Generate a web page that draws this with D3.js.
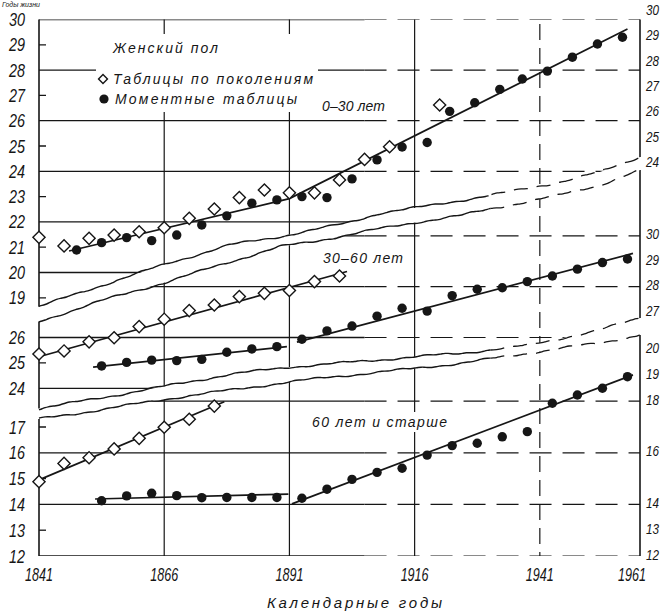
<!DOCTYPE html>
<html><head><meta charset="utf-8">
<script src="https://cdn.jsdelivr.net/npm/d3@7"></script>
<style>
body{margin:0;background:#fff}
svg{display:block}
text{font-family:"Liberation Sans",Arial,sans-serif;font-style:italic;fill:#161616}
</style>
</head><body>
<svg id="c" width="666" height="613"></svg>
<script>
// ---------- DATA ----------
const xTicks = [1841, 1866, 1891, 1916, 1941, 1961];
const xTickLabels = ["1841", "1866", "1891", "1916", "1941", "1961"];
const xTitle = "Календарные годы";

// Top panel: 0–30 лет
const topLeftLabels = [30, 29, 28, 27, 26, 25, 24, 23, 22, 21, 20, 19];
const topGrid = [30, 28, 26, 24, 22, 20];
const topMinor = [29, 27, 25, 23, 21, 19];
const topRightLabels = [30, 29, 28, 27, 26, 25, 24];
const topDiamondYears = [1841, 1846, 1851, 1856, 1861, 1866, 1871, 1876, 1881, 1886, 1891, 1896, 1901, 1906, 1911, 1921];
const topDiamondVals = [21.39, 21.05, 21.35, 21.48, 21.61, 21.77, 22.14, 22.51, 22.96, 23.26, 23.15, 23.15, 23.66, 24.47, 24.97, 26.62];
const topDotYears = [1848.5, 1853.5, 1858.5, 1863.5, 1868.5, 1873.5, 1878.5, 1883.5, 1888.5, 1893.5, 1898.5, 1903.5, 1908.5, 1913.5, 1918.5, 1923, 1928, 1933, 1937.5, 1942.5, 1947.5, 1952.5, 1957.5];
const topDotVals = [20.89, 21.18, 21.38, 21.26, 21.48, 21.88, 22.24, 22.74, 22.87, 23.0, 22.96, 23.70, 24.45, 24.96, 25.14, 26.37, 26.71, 27.24, 27.65, 27.96, 28.51, 29.03, 29.30];
const topDotTrendYears = [1847, 1891, 1958.5];
const topDotTrendVals = [20.85, 22.92, 29.62];

// Middle panel: 30–60 лет
const midLeftLabels = [26, 25, 24];
const midGrid = [30, 28, 26, 24];
const midMinor = [29, 27, 25];
const midRightLabels = [30, 29, 28, 27];
const midDiamondYears = [1841, 1846, 1851, 1856, 1861, 1866, 1871, 1876, 1881, 1886, 1891, 1896, 1901];
const midDiamondVals = [25.35, 25.47, 25.83, 25.99, 26.43, 26.72, 27.06, 27.28, 27.61, 27.74, 27.85, 28.2, 28.42];
const midDiamondTrendYears = [1841, 1902.5];
const midDiamondTrendVals = [25.24, 28.6];
const midDotYears = [1853.5, 1858.5, 1863.5, 1868.5, 1873.5, 1878.5, 1883.5, 1888.5, 1893.5, 1898.5, 1903.5, 1908.5, 1913.5, 1918.5, 1923.5, 1928.5, 1933.5, 1938.5, 1943.5, 1948.5, 1953.5, 1958.5];
const midDotVals = [24.88, 25.02, 25.11, 25.09, 25.14, 25.42, 25.55, 25.64, 25.93, 26.26, 26.45, 26.84, 27.15, 27.04, 27.65, 27.9, 27.96, 28.2, 28.42, 28.69, 28.95, 29.09];
const midDotTrend1Years = [1851.8, 1890.5];
const midDotTrend1Vals = [24.83, 25.64];
const midDotTrend2Years = [1892.5, 1959.6];
const midDotTrend2Vals = [25.82, 29.31];

// Bottom panel: 60 лет и старше
const botLeftLabels = [17, 16, 15, 14, 13, 12];
const botGrid = [18, 16, 14, 12];
const botMinor = [19, 17, 15, 13];
const botRightLabels = [20, 19, 18, 16, 14, 13, 12];
const botDiamondYears = [1841, 1846, 1851, 1856, 1861, 1866, 1871, 1876];
const botDiamondVals = [14.88, 15.59, 15.81, 16.15, 16.56, 16.99, 17.3, 17.81];
const botDiamondTrendYears = [1841, 1878];
const botDiamondTrendVals = [14.95, 17.98];
const botDotYears = [1853.5, 1858.5, 1863.5, 1868.5, 1873.5, 1878.5, 1883.5, 1888.5, 1893.5, 1898.5, 1903.5, 1908.5, 1913.5, 1918.5, 1923.5, 1928.5, 1933.5, 1938.5, 1943.5, 1948.5, 1953.5, 1958.5];
const botDotVals = [14.14, 14.33, 14.43, 14.34, 14.26, 14.27, 14.27, 14.27, 14.24, 14.59, 14.97, 15.24, 15.4, 15.91, 16.28, 16.37, 16.62, 16.82, 17.92, 18.24, 18.5, 18.95];
const botDotTrend1Years = [1852.2, 1890.8];
const botDotTrend1Vals = [14.21, 14.4];
const botDotTrend2Years = [1891.5, 1959.6];
const botDotTrend2Vals = [14.02, 19.02];

// Axis-break (wavy) lines: A,B in top-panel units; C,D in middle-panel units
const breakAYears = [1841, 1853.2, 1866.4, 1879.1, 1889.1, 1895.7, 1902.5, 1909.1, 1917.7, 1923.7, 1933.7, 1945, 1953, 1961];
const breakAVals = [18.65, 19.47, 20.34, 21.09, 21.42, 21.68, 21.96, 22.35, 22.60, 22.80, 23.14, 23.58, 23.97, 24.57];
const breakBYears = [1841, 1853.2, 1866.4, 1879.1, 1889.1, 1895.7, 1905.7, 1917.1, 1925.7, 1931.7, 1945, 1953, 1961];
const breakBVals = [18.06, 18.87, 19.62, 20.42, 21.02, 21.22, 21.61, 22.01, 22.27, 22.54, 23.06, 23.46, 24.05];
const breakCYears = [1841, 1853.2, 1866.4, 1879.1, 1891.1, 1899.1, 1913.1, 1925.7, 1939, 1945.6, 1953, 1961];
const breakCVals = [23.20, 23.62, 24.09, 24.55, 24.84, 24.96, 25.19, 25.39, 25.70, 25.98, 26.30, 26.77];
const breakDYears = [1841, 1853.2, 1866.4, 1879.1, 1891.1, 1899.1, 1913.1, 1925.7, 1939, 1945.6, 1953, 1961];
const breakDVals = [22.79, 23.15, 23.58, 23.93, 24.25, 24.44, 24.72, 25.0, 25.39, 25.59, 25.78, 26.10];

const legendTitle = "Женский пол";
const legendDiamond = "Таблицы по поколениям";
const legendDot = "Моментные таблицы";
const panelTitles = ["0–30 лет", "30–60 лет", "60 лет и старше"];

// ---------- SCALES ----------
const svg = d3.select("#c");
const INK = "#161616";
const x = d3.scaleLinear().domain([1841, 1961]).range([39, 640]);
const yTop = d3.scaleLinear().domain([30, 19]).range([19.5, 297.8]);
const yMid = d3.scaleLinear().domain([30, 24]).range([235.9, 388.3]);
const yBot = d3.scaleLinear().domain([20, 12]).range([349.6, 556]);

const pts = (ys, vs, sc) => ys.map((yr, i) => [x(yr), sc(vs[i])]);
const A = pts(breakAYears, breakAVals, yTop);
const B = pts(breakBYears, breakBVals, yTop);
const C = pts(breakCYears, breakCVals, yMid);
const D = pts(breakDYears, breakDVals, yMid);

// clip paths
const defs = svg.append("defs");
function addClip(id, poly) {
  defs.append("clipPath").attr("id", id).append("polygon")
    .attr("points", poly.map(p => p.join(",")).join(" "));
}
const last = a => a[a.length - 1];
addClip("clipTop", [[0, A[0][1]], ...A, [666, last(A)[1]], [666, yTop(30)], [0, yTop(30)]]);
addClip("clipMid", [[0, B[0][1]], ...B, [666, last(B)[1]], [666, last(C)[1]], ...C.slice().reverse(), [0, C[0][1]]]);
addClip("clipBot", [[0, D[0][1]], ...D, [666, last(D)[1]], [666, yBot(12)], [0, yBot(12)]]);

const panels = [
  {clip: "clipTop", y: yTop, grid: topGrid, minor: topMinor},
  {clip: "clipMid", y: yMid, grid: midGrid, minor: midMinor},
  {clip: "clipBot", y: yBot, grid: botGrid, minor: botMinor}
];

const splitYear = 1906;
panels.forEach(p => {
  const g = svg.append("g").attr("clip-path", `url(#${p.clip})`)
    .attr("stroke", INK).attr("fill", "none");
  p.grid.forEach(v => {
    g.append("line").attr("x1", x(1841)).attr("x2", x(splitYear))
      .attr("y1", p.y(v)).attr("y2", p.y(v)).attr("stroke-width", 1.3);
    g.append("line").attr("x1", x(splitYear)).attr("x2", x(1961))
      .attr("y1", p.y(v)).attr("y2", p.y(v)).attr("stroke-width", 1.2)
      .attr("stroke-dasharray", "22,11");
  });
  p.minor.forEach(v => {
    g.append("line").attr("x1", x(1841)).attr("x2", x(1841) + 7)
      .attr("y1", p.y(v)).attr("y2", p.y(v)).attr("stroke-width", 1.3);
  });
  xTicks.forEach(t => {
    const ln = g.append("line").attr("x1", x(t)).attr("x2", x(t))
      .attr("y1", 0).attr("y2", 613)
      .attr("stroke-width", (t === 1841 || t === 1961) ? 1.6 : 1.2);
    if (t === 1941) ln.attr("stroke-dasharray", "16,8");
  });
});

// wavy break lines (decorative)
function wavy(points, seed) {
  const out = [];
  for (let i = 0; i < points.length - 1; i++) {
    const [x0, y0] = points[i], [x1, y1] = points[i + 1];
    const n = Math.max(2, Math.round((x1 - x0) / 3));
    for (let k = 0; k < n; k++) {
      const t = k / n, xx = x0 + (x1 - x0) * t;
      out.push([xx, y0 + (y1 - y0) * t + 0.5 * Math.sin(xx * 0.3 + seed) + 0.9 * Math.sin(xx * 0.07 + seed * 2)]);
    }
  }
  out.push(last(points));
  return out;
}
const lineGen = d3.line().curve(d3.curveBasis);
const dashFrom = x(1931);
[[A, 0.3], [B, 1.7], [C, 2.9], [D, 4.1]].forEach(([P, s]) => {
  const w = wavy(P, s);
  svg.append("path").attr("d", lineGen(w.filter(p => p[0] <= dashFrom + 1)))
    .attr("fill", "none").attr("stroke", INK).attr("stroke-width", 1.4);
  svg.append("path").attr("d", lineGen(w.filter(p => p[0] >= dashFrom - 1)))
    .attr("fill", "none").attr("stroke", INK).attr("stroke-width", 1.3)
    .attr("stroke-dasharray", "14,9");
});

// white backgrounds under labels
svg.append("rect").attr("x", 96).attr("y", 34).attr("width", 222).attr("height", 78).attr("fill", "#fff");
svg.append("rect").attr("x", 308).attr("y", 412).attr("width", 142).attr("height", 20).attr("fill", "#fff");

// ---------- MARKS ----------
const diamondPath = d3.symbol(d3.symbolSquare, 74)();
function drawSeries(years, vals, sc, kind) {
  const g = svg.append("g");
  if (kind === "diamond") {
    g.selectAll("path").data(years).join("path")
      .attr("d", diamondPath)
      .attr("transform", (d, i) => `translate(${x(d)},${sc(vals[i])}) rotate(45)`)
      .attr("fill", "#fff").attr("stroke", INK).attr("stroke-width", 1.4);
  } else {
    g.selectAll("circle").data(years).join("circle")
      .attr("cx", d => x(d)).attr("cy", (d, i) => sc(vals[i])).attr("r", 4.7)
      .attr("fill", INK);
  }
}
function drawLine(years, vals, sc) {
  svg.append("path").attr("d", d3.line()(pts(years, vals, sc)))
    .attr("fill", "none").attr("stroke", INK).attr("stroke-width", 1.7);
}
drawLine(topDotTrendYears, topDotTrendVals, yTop);
drawLine(midDiamondTrendYears, midDiamondTrendVals, yMid);
drawLine(midDotTrend1Years, midDotTrend1Vals, yMid);
drawLine(midDotTrend2Years, midDotTrend2Vals, yMid);
drawLine(botDiamondTrendYears, botDiamondTrendVals, yBot);
drawLine(botDotTrend1Years, botDotTrend1Vals, yBot);
drawLine(botDotTrend2Years, botDotTrend2Vals, yBot);

drawSeries(topDiamondYears, topDiamondVals, yTop, "diamond");
drawSeries(topDotYears, topDotVals, yTop, "dot");
drawSeries(midDiamondYears, midDiamondVals, yMid, "diamond");
drawSeries(midDotYears, midDotVals, yMid, "dot");
drawSeries(botDiamondYears, botDiamondVals, yBot, "diamond");
drawSeries(botDotYears, botDotVals, yBot, "dot");

// ---------- TEXT ----------
function txt(s, xx, yy, size, len, opts = {}) {
  const t = svg.append("text").attr("x", xx).attr("y", yy).attr("font-size", size).text(s);
  if (len) t.attr("textLength", len).attr("lengthAdjust", opts.glyphs ? "spacingAndGlyphs" : "spacing");
  if (opts.anchor) t.attr("text-anchor", opts.anchor);
  if (opts.fill) t.attr("fill", opts.fill);
  return t;
}
[[topLeftLabels, yTop], [midLeftLabels, yMid], [botLeftLabels, yBot]].forEach(([labs, sc]) => {
  labs.forEach(v => txt(String(v), 9, sc(v) + 6.5, 18, 16, {glyphs: true}));
});
[[topRightLabels, yTop, -10], [midRightLabels, yMid, -2], [botRightLabels, yBot, -2]].forEach(([labs, sc, off]) => {
  labs.forEach(v => txt(String(v), 646, sc(v) + off + 5.5, 15, 13, {glyphs: true, fill: "#5a5a5a"}));
});
xTicks.forEach((t, i) => txt(xTickLabels[i], Math.min(x(t), 632) - 14, 581, 19, 28, {glyphs: true}));
txt(xTitle, 267, 608, 15, 175);

txt(legendTitle, 113, 53, 14, 105);
svg.append("path").attr("d", d3.symbol(d3.symbolSquare, 40)())
  .attr("transform", `translate(103,79) rotate(45)`)
  .attr("fill", "#fff").attr("stroke", INK).attr("stroke-width", 1.4);
txt(legendDiamond, 113, 84, 14, 200);
svg.append("circle").attr("cx", 104).attr("cy", 99).attr("r", 4.6).attr("fill", INK);
txt(legendDot, 115, 104, 14, 182);

txt(panelTitles[0], 322, 111, 14, 63);
txt(panelTitles[1], 323, 263, 14, 80);
txt(panelTitles[2], 312, 427, 14, 135);

txt("Годы жизни", 2, 7, 7, 38, {fill: "#555"});
</script>
</body></html>
